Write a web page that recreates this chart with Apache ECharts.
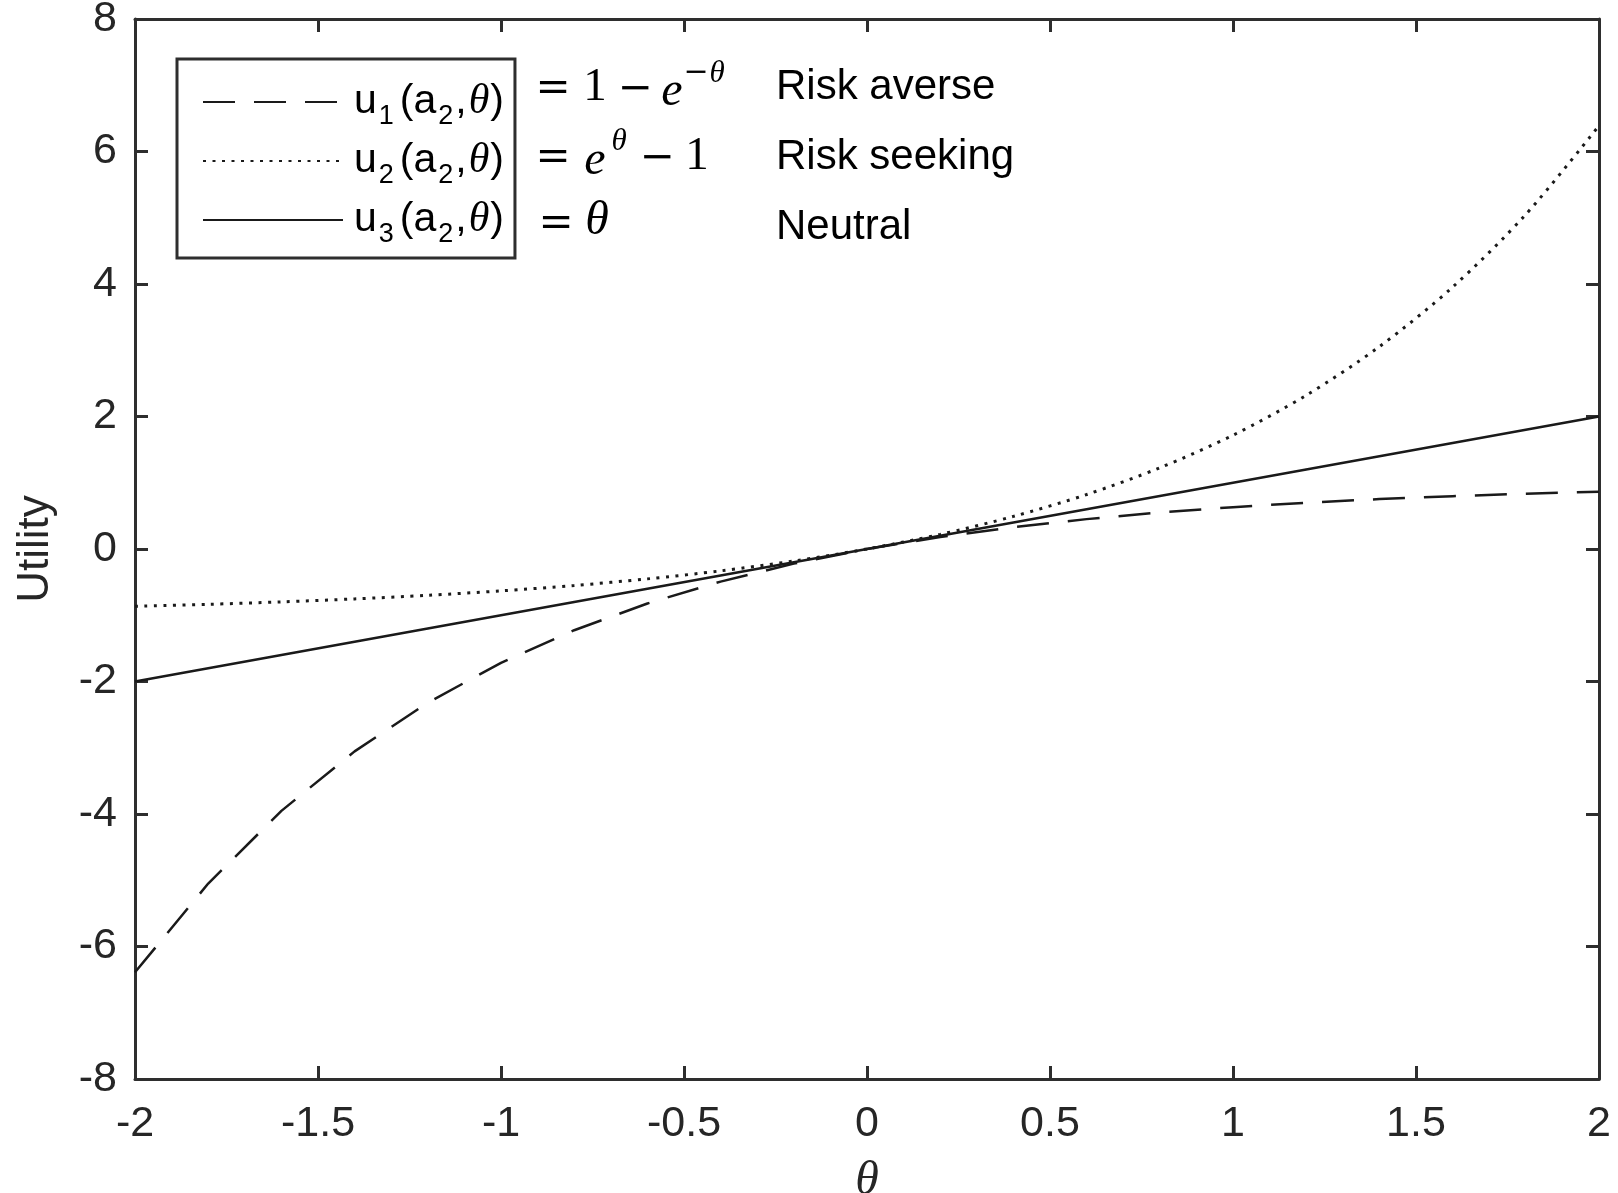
<!DOCTYPE html>
<html><head><meta charset="utf-8">
<script src="https://cdn.jsdelivr.net/npm/echarts@6/dist/echarts.min.js"></script>
<style>html,body{margin:0;padding:0;background:#fff}#c{width:1618px;height:1193px}</style>
</head><body><div id="c"></div>
<script>
const thetas = [-2, -1.8, -1.6, -1.4, -1.2, -1, -0.8, -0.6, -0.4, -0.2, 0, 0.2, 0.4, 0.6, 0.8, 1, 1.2, 1.4, 1.6, 1.8, 2];
const riskAverse = [-6.389, -5.050, -3.953, -3.055, -2.320, -1.718, -1.226, -0.822, -0.492, -0.221, 0, 0.181, 0.330, 0.451, 0.551, 0.632, 0.699, 0.753, 0.798, 0.835, 0.865];
const riskSeeking = [-0.865, -0.835, -0.798, -0.753, -0.699, -0.632, -0.551, -0.451, -0.330, -0.181, 0, 0.221, 0.492, 0.822, 1.226, 1.718, 2.320, 3.055, 3.953, 5.050, 6.389];
const neutral = [-2, -1.8, -1.6, -1.4, -1.2, -1, -0.8, -0.6, -0.4, -0.2, 0, 0.2, 0.4, 0.6, 0.8, 1, 1.2, 1.4, 1.6, 1.8, 2];
const seriesIds = ['1', '2', '3'];
const descriptions = ['Risk averse', 'Risk seeking', 'Neutral'];
const xRange = [-2, 2, 0.5];
const yRange = [-8, 8, 2];
const xName = 'θ';
const yName = 'Utility';

const INK = '#1a1a1a';
const AX = '#2e2e2e';
const SANS = 'Liberation Sans';
const SERIF = 'Liberation Serif';
const OPS = 'DejaVu Serif';

const toPairs = ys => thetas.map((t, i) => [t, ys[i]]);
const names = seriesIds.map(s => 'u' + s);

const axisCommon = {
  axisLine: { show: true, onZero: false, lineStyle: { color: AX, width: 3 } },
  axisTick: { show: true, inside: true, length: 13, lineStyle: { color: AX, width: 3 } },
  splitLine: { show: false }
};

// equation glyph styles (typeset piece by piece, centred on their x)
const G = {
  op: { fontFamily: OPS, fontSize: 42 },
  n: { fontFamily: SERIF, fontSize: 47 },
  i: { fontFamily: SERIF, fontStyle: 'italic', fontSize: 48 },
  sop: { fontFamily: OPS, fontSize: 30 },
  si: { fontFamily: SERIF, fontStyle: 'italic', fontSize: 31 }
};
function glyph(kind, ch, x, y) {
  return { type: 'text', x: x, y: y, silent: true,
    style: Object.assign({ text: ch, fill: '#000', align: 'center', verticalAlign: 'middle' }, G[kind]) };
}
const eqGlyphs = [
  // row 1 : = 1 − e^{−θ}
  glyph('op', '=', 553, 90), glyph('n', '1', 595, 88), glyph('op', '−', 635, 90), glyph('i', 'e', 672, 92),
  glyph('sop', '−', 696, 73), glyph('si', 'θ', 717, 74),
  // row 2 : = e^{θ} − 1
  glyph('op', '=', 553, 159), glyph('i', 'e', 595, 161), glyph('si', 'θ', 619, 142),
  glyph('op', '−', 657, 159), glyph('n', '1', 697, 157),
  // row 3 : = θ
  glyph('op', '=', 556, 225), glyph('i', 'θ', 597, 221)
];

const chart = echarts.init(document.getElementById('c'), null, { renderer: 'canvas' });
chart.setOption({
  animation: false,
  backgroundColor: '#fff',
  grid: { left: 135, right: 19, top: 19, bottom: 114, containLabel: false, outerBoundsMode: 'none' },
  xAxis: [
    Object.assign({
      type: 'value', min: xRange[0], max: xRange[1], interval: xRange[2], position: 'bottom',
      name: xName, nameLocation: 'middle', nameGap: 78,
      nameTextStyle: { fontFamily: SERIF, fontStyle: 'italic', fontSize: 48, color: '#262626' },
      axisLabel: { fontFamily: SANS, fontSize: 43, color: '#262626', margin: 24 }
    }, axisCommon),
    Object.assign({
      type: 'value', min: xRange[0], max: xRange[1], interval: xRange[2], position: 'top',
      axisLabel: { show: false }
    }, axisCommon)
  ],
  yAxis: [
    Object.assign({
      type: 'value', min: yRange[0], max: yRange[1], interval: yRange[2], position: 'left',
      name: yName, nameLocation: 'middle', nameGap: 77, nameRotate: 90,
      nameTextStyle: { fontFamily: SANS, fontSize: 44, color: '#262626' },
      axisLabel: { fontFamily: SANS, fontSize: 43, color: '#262626', margin: 18 }
    }, axisCommon),
    Object.assign({
      type: 'value', min: yRange[0], max: yRange[1], interval: yRange[2], position: 'right',
      axisLabel: { show: false }
    }, axisCommon)
  ],
  legend: {
    orient: 'vertical', left: 177, top: 59,
    padding: [22, 11, 10, 25],
    itemGap: 10,
    itemWidth: 140, itemHeight: 14,
    borderColor: AX, borderWidth: 3, borderRadius: 0,
    backgroundColor: '#fff',
    selectedMode: false,
    itemStyle: { opacity: 0, borderWidth: 0 },
    data: names,
    formatter: n => '{u|u}{s|' + n.slice(1) + '}{p|(}{u|a}{s|2}{u|,}{t|θ}{u|)}',
    textStyle: {
      padding: [0, 0, 0, 6],
      rich: {
        u: { fontFamily: SANS, fontSize: 41, lineHeight: 56, color: '#000' },
        p: { fontFamily: SANS, fontSize: 41, lineHeight: 56, color: '#000', padding: [0, 0, 0, 4] },
        s: { fontFamily: SANS, fontSize: 27, lineHeight: 10, verticalAlign: 'bottom', color: '#000', padding: [0, 2, 0, 2] },
        t: { fontFamily: SERIF, fontStyle: 'italic', fontSize: 42, lineHeight: 56, color: '#000', padding: [0, 1, 0, 2] }
      }
    }
  },
  graphic: eqGlyphs.concat([
    { type: 'text', x: 776, y: 87, style: { text: descriptions[0], verticalAlign: 'middle', fontFamily: SANS, fontSize: 42, fill: '#000' } },
    { type: 'text', x: 776, y: 157, style: { text: descriptions[1], verticalAlign: 'middle', fontFamily: SANS, fontSize: 42, fill: '#000' } },
    { type: 'text', x: 776, y: 227, style: { text: descriptions[2], verticalAlign: 'middle', fontFamily: SANS, fontSize: 42, fill: '#000' } }
  ]),
  series: [
    { name: names[0], type: 'line', data: toPairs(riskAverse), showSymbol: false, symbol: 'none',
      lineStyle: { color: INK, width: 2.5, type: [32, 19] }, itemStyle: { color: INK } },
    { name: names[1], type: 'line', data: toPairs(riskSeeking), showSymbol: false, symbol: 'none', smooth: 0.3,
      lineStyle: { color: INK, width: 3, type: [3, 6.5] }, itemStyle: { color: INK } },
    { name: names[2], type: 'line', data: toPairs(neutral), showSymbol: false, symbol: 'none',
      lineStyle: { color: INK, width: 2.5, type: 'solid' }, itemStyle: { color: INK } }
  ]
});
</script>
</body></html>
